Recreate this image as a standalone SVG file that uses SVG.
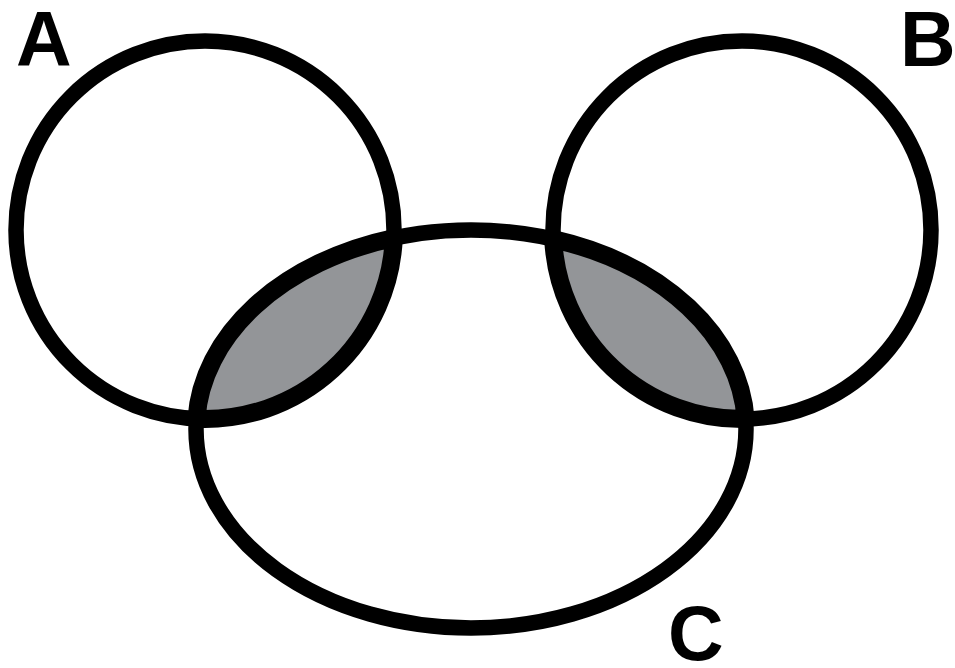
<svg xmlns="http://www.w3.org/2000/svg" width="955" height="668" viewBox="0 0 955 668">
  <style>
    .set { fill: none; stroke: #000; stroke-width: 15.5; }
    .lens { fill: #939598; stroke: #000; stroke-width: 18; stroke-linejoin: round; }
    .label { font-family: "Liberation Sans", Arial, sans-serif; font-weight: bold; font-size: 77px; fill: #000; }
  </style>
  <rect width="955" height="668" fill="#fff"/>
  <g id="regions">
    <path id="A-and-C" class="lens" d="M 196.4 418.8 A 275 199 0 0 1 393.8 238.0 A 189 189 0 0 1 196.4 418.8 Z"/>
    <path id="B-and-C" class="lens" d="M 553.2 239.1 A 275 199 0 0 1 745.6 419.0 A 189 189 0 0 1 553.2 239.1 Z"/>
  </g>
  <g id="node-A">
    <circle class="set" cx="205" cy="230" r="189"/>
    <text class="label" x="16" y="66">A</text>
  </g>
  <g id="node-B">
    <circle class="set" cx="742" cy="230" r="189"/>
    <text class="label" x="900" y="66">B</text>
  </g>
  <g id="node-C">
    <ellipse class="set" cx="471" cy="429" rx="275" ry="199"/>
    <text class="label" x="668" y="660">C</text>
  </g>
</svg>
